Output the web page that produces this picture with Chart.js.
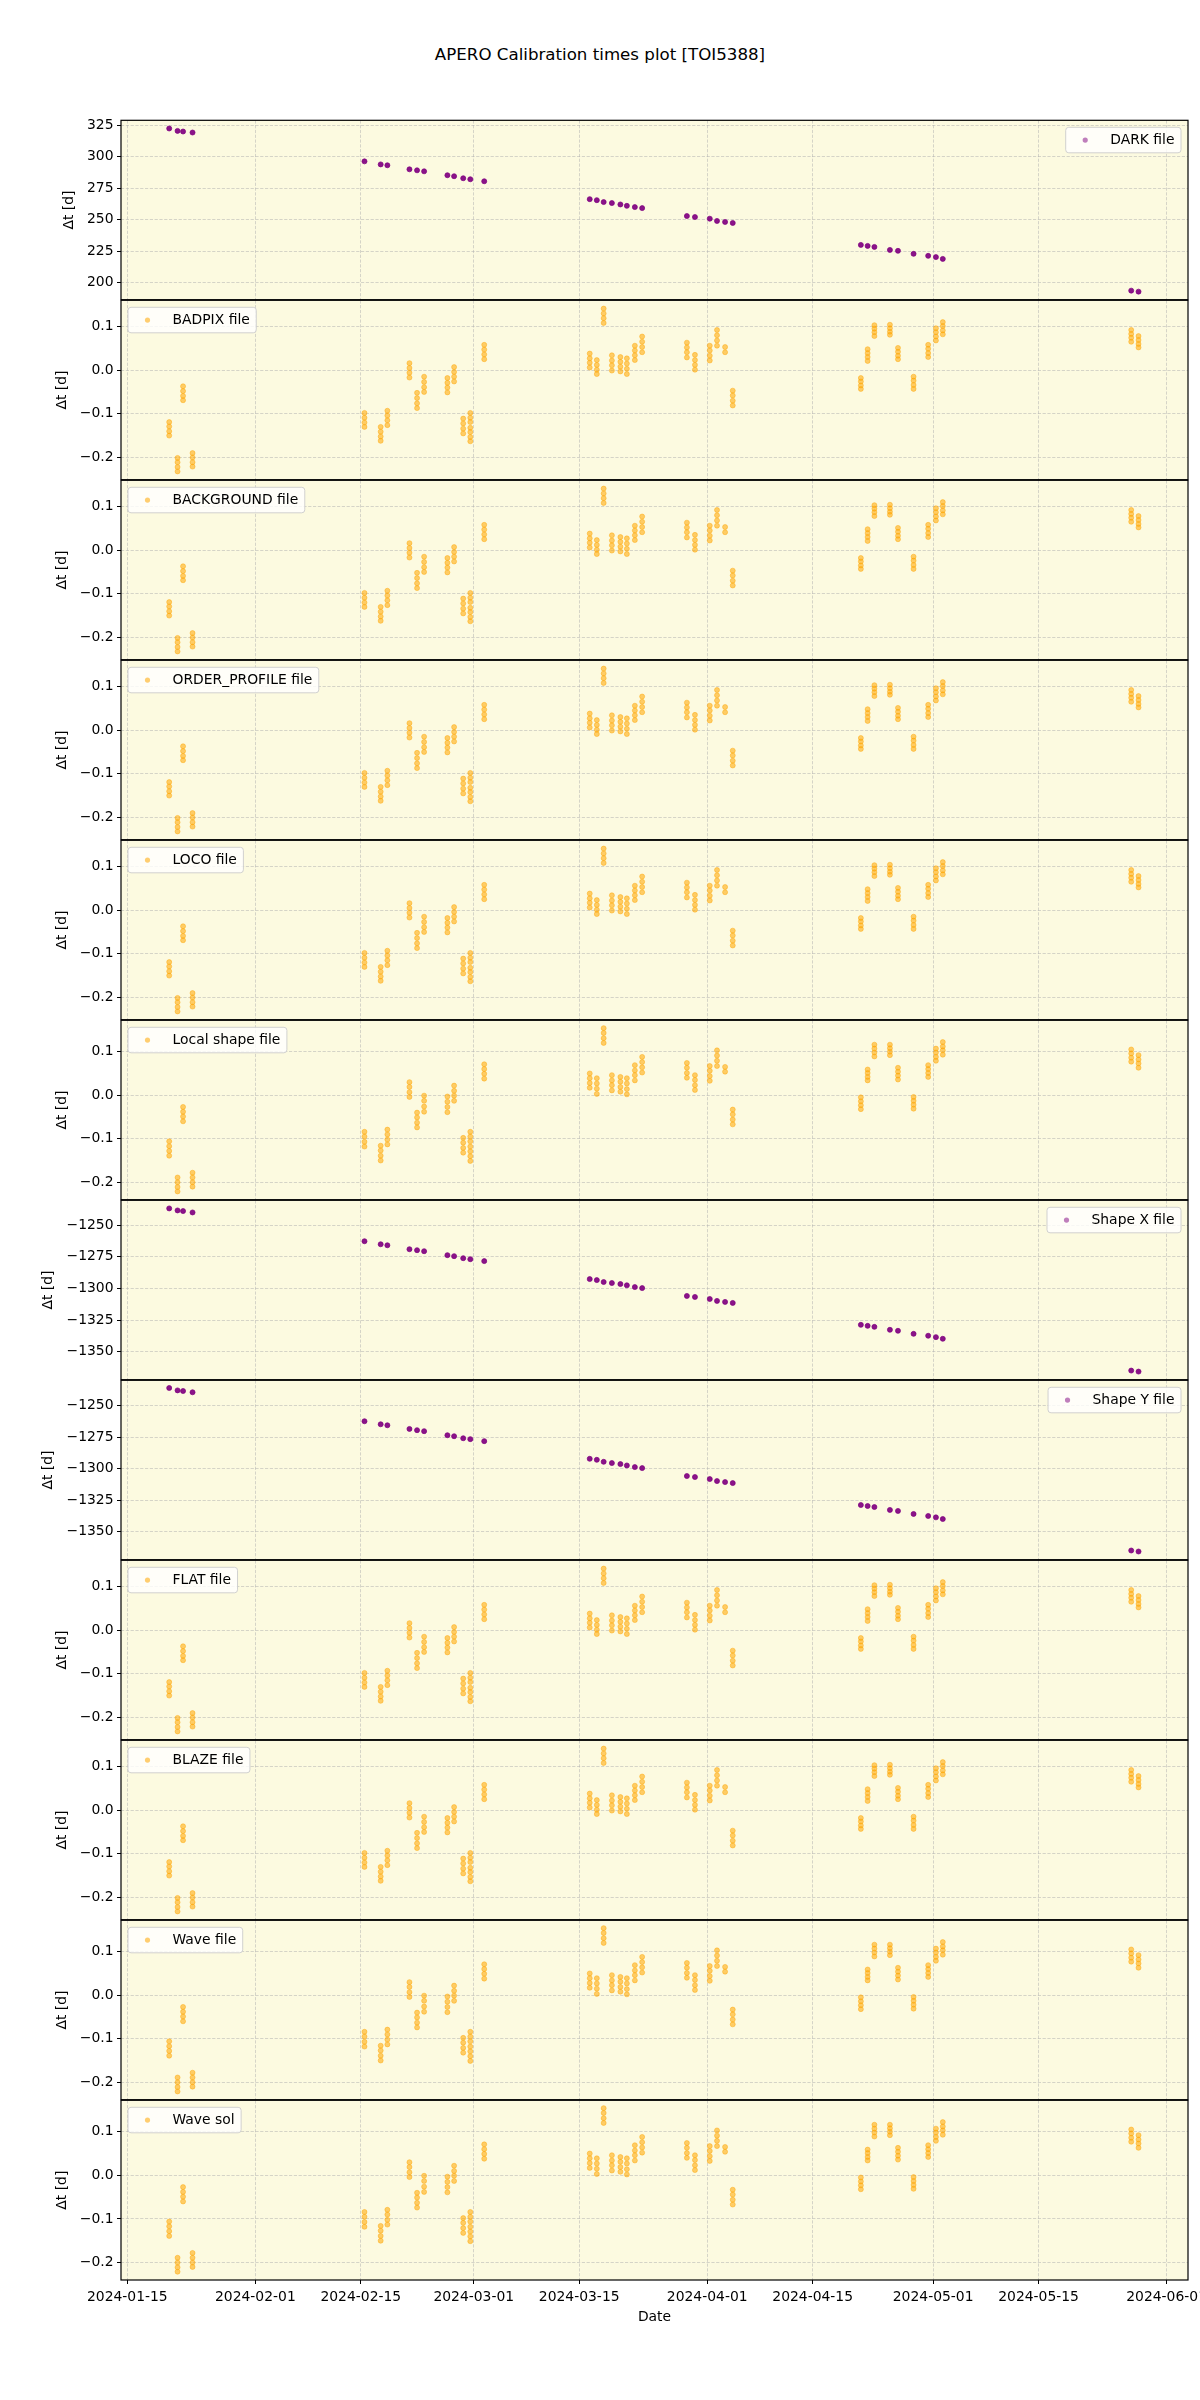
<!DOCTYPE html>
<html>
<head>
<meta charset="utf-8">
<script src="https://cdn.jsdelivr.net/npm/chart.js@4.4.1/dist/chart.umd.min.js"></script>
<style>
html, body { margin: 0; padding: 0; background: #ffffff; }
body { width: 1200px; height: 2400px; position: relative; overflow: hidden; font-family: 'DejaVu Sans', sans-serif; }
#title { position: absolute; left: 0; top: 45px; width: 1200px; text-align: center; font-size: 16.67px; line-height: 20px; color: #000; }
.pc { position: absolute; left: 0; width: 1200px; }
</style>
</head>
<body>
<div id="title">APERO Calibration times plot [TOI5388]</div>
<div id="wrap"></div>
<script>
// ---------------- DATA ----------------
// observation nights (UTC)
const obsNights = [
  '2024-01-20T13:26', '2024-01-21T16:05', '2024-01-22T09:36', '2024-01-23T15:50',
  '2024-02-15T11:46', '2024-02-17T15:22', '2024-02-18T12:43',
  '2024-02-21T11:02', '2024-02-22T11:17', '2024-02-23T09:50',
  '2024-02-26T12:00', '2024-02-27T09:22', '2024-02-28T14:24', '2024-02-29T12:58',
  '2024-03-02T09:22',
  '2024-03-16T09:36', '2024-03-17T08:10', '2024-03-18T06:00', '2024-03-19T08:10',
  '2024-03-20T11:17', '2024-03-21T07:55', '2024-03-22T09:22', '2024-03-23T08:38',
  '2024-03-29T07:12', '2024-03-30T08:53',
  '2024-04-01T08:10', '2024-04-02T07:12', '2024-04-03T08:53', '2024-04-04T09:22',
  '2024-04-21T09:36', '2024-04-22T07:12', '2024-04-23T04:48',
  '2024-04-25T06:14', '2024-04-26T07:55', '2024-04-28T09:36',
  '2024-04-30T08:10', '2024-05-01T08:53', '2024-05-02T06:43',
  '2024-05-27T07:12', '2024-05-28T06:29'
];

const darkDt = [
  322.4, 320.5, 320.0, 319.2,
  296.3, 293.9, 293.2, 290.0, 289.2, 288.4, 285.3, 284.5, 282.9, 282.1, 280.5,
  266.3, 265.5, 264.0, 263.2, 262.1, 261.0, 260.0, 259.2,
  252.9, 252.1, 250.8, 249.0, 248.2, 247.4,
  230.0, 229.2, 228.4, 226.0, 225.3, 222.9, 221.3, 220.3, 218.9,
  193.7, 192.9
];

const shapeXDt = [
  -1236.9, -1238.5, -1239.0, -1240.1,
  -1262.8, -1265.2, -1266.0, -1269.1, -1269.9, -1270.7, -1273.8, -1274.6, -1276.2, -1277.0, -1278.5,
  -1292.7, -1293.5, -1295.0, -1295.8, -1296.6, -1297.6, -1299.0, -1299.8,
  -1306.0, -1306.8, -1308.4, -1309.9, -1310.7, -1311.5,
  -1328.8, -1329.6, -1330.4, -1332.7, -1333.5, -1335.9, -1337.4, -1338.5, -1339.8,
  -1364.9, -1365.7
];

const shapeYDt = [
  -1236.0, -1237.9, -1238.4, -1239.4,
  -1262.4, -1264.8, -1265.6, -1268.5, -1269.5, -1270.3, -1273.5, -1274.3, -1275.9, -1276.6, -1278.2,
  -1292.2, -1293.0, -1294.6, -1295.6, -1296.4, -1297.5, -1298.8, -1299.6,
  -1305.9, -1306.7, -1308.3, -1309.9, -1310.7, -1311.5,
  -1328.9, -1329.7, -1330.5, -1332.8, -1333.6, -1336.0, -1337.6, -1338.7, -1340.0,
  -1365.0, -1365.8
];

// per night, the Δt of each file of that night (BADPIX / BACKGROUND / ORDER_PROFILE / LOCO / FLAT / BLAZE)
const calibDtA = [
  [-0.119, -0.129, -0.140, -0.150],
  [-0.201, -0.211, -0.222, -0.232],
  [-0.037, -0.048, -0.059, -0.069],
  [-0.190, -0.200, -0.211, -0.221],
  [-0.098, -0.109, -0.120, -0.130],
  [-0.130, -0.141, -0.152, -0.162],
  [-0.093, -0.104, -0.115, -0.126],
  [0.016, 0.005, -0.006, -0.017],
  [-0.052, -0.064, -0.076, -0.087],
  [-0.015, -0.027, -0.039, -0.050],
  [-0.018, -0.029, -0.040, -0.051],
  [0.007, -0.004, -0.015, -0.026],
  [-0.111, -0.122, -0.134, -0.145],
  [-0.098, -0.109, -0.119, -0.132, -0.142, -0.153, -0.163],
  [0.058, 0.047, 0.036, 0.025],
  [0.038, 0.027, 0.017, 0.006],
  [0.023, 0.012, 0.001, -0.009],
  [0.141, 0.130, 0.119, 0.108],
  [0.034, 0.022, 0.011, -0.001],
  [0.030, 0.019, 0.008, -0.003],
  [0.027, 0.015, 0.003, -0.009],
  [0.056, 0.045, 0.034, 0.023],
  [0.077, 0.065, 0.053, 0.041],
  [0.063, 0.052, 0.041, 0.029],
  [0.035, 0.023, 0.012, 0.001],
  [0.056, 0.045, 0.033, 0.022],
  [0.092, 0.080, 0.068, 0.056],
  [0.053, 0.041],
  [-0.047, -0.058, -0.070, -0.081],
  [-0.018, -0.026, -0.035, -0.043],
  [0.048, 0.039, 0.030, 0.021],
  [0.103, 0.095, 0.087, 0.078],
  [0.104, 0.096, 0.088, 0.081],
  [0.051, 0.042, 0.033, 0.025],
  [-0.015, -0.024, -0.034, -0.043],
  [0.058, 0.049, 0.039, 0.030],
  [0.096, 0.087, 0.077, 0.068],
  [0.110, 0.101, 0.091, 0.082],
  [0.092, 0.083, 0.074, 0.065],
  [0.078, 0.069, 0.060, 0.052]
];

// per night, Δt for Local shape / Wave file / Wave sol
const calibDtB = [
  [-0.106, -0.117, -0.128, -0.139],
  [-0.189, -0.200, -0.211, -0.221],
  [-0.027, -0.038, -0.049, -0.060],
  [-0.178, -0.189, -0.200, -0.210],
  [-0.084, -0.095, -0.107, -0.118],
  [-0.116, -0.127, -0.139, -0.150],
  [-0.079, -0.090, -0.102, -0.113],
  [0.030, 0.019, 0.007, -0.004],
  [-0.040, -0.051, -0.063, -0.074],
  [-0.001, -0.013, -0.026, -0.038],
  [-0.003, -0.015, -0.027, -0.039],
  [0.022, 0.010, -0.001, -0.013],
  [-0.098, -0.109, -0.121, -0.132],
  [-0.084, -0.095, -0.106, -0.118, -0.129, -0.140, -0.151],
  [0.071, 0.060, 0.049, 0.038],
  [0.050, 0.039, 0.028, 0.017],
  [0.039, 0.027, 0.015, 0.003],
  [0.154, 0.143, 0.131, 0.120],
  [0.046, 0.034, 0.023, 0.011],
  [0.042, 0.031, 0.019, 0.008],
  [0.039, 0.027, 0.014, 0.002],
  [0.069, 0.057, 0.046, 0.034],
  [0.088, 0.076, 0.064, 0.052],
  [0.074, 0.063, 0.051, 0.040],
  [0.046, 0.035, 0.023, 0.012],
  [0.067, 0.056, 0.044, 0.033],
  [0.103, 0.091, 0.079, 0.067],
  [0.065, 0.054],
  [-0.033, -0.044, -0.056, -0.067],
  [-0.005, -0.014, -0.023, -0.032],
  [0.059, 0.051, 0.042, 0.034],
  [0.116, 0.107, 0.098, 0.089],
  [0.116, 0.108, 0.100, 0.092],
  [0.063, 0.054, 0.045, 0.036],
  [-0.004, -0.013, -0.022, -0.031],
  [0.069, 0.060, 0.051, 0.042],
  [0.107, 0.098, 0.088, 0.079],
  [0.122, 0.112, 0.103, 0.093],
  [0.105, 0.096, 0.086, 0.077],
  [0.092, 0.082, 0.073, 0.063]
];

const badpixDt = calibDtA, backgroundDt = calibDtA, orderProfileDt = calibDtA, locoDt = calibDtA, flatDt = calibDtA, blazeDt = calibDtA;
const localShapeDt = calibDtB, waveFileDt = calibDtB, waveSolDt = calibDtB;

const xTickLabels = ['2024-01-15', '2024-02-01', '2024-02-15', '2024-03-01', '2024-03-15',
                     '2024-04-01', '2024-04-15', '2024-05-01', '2024-05-15', '2024-06-01'];
const xRange = ['2024-01-14T03:50', '2024-06-03T20:10'];
const darkTicks = [200, 225, 250, 275, 300, 325];
const shapeTicks = [-1350, -1325, -1300, -1275, -1250];
const calibTicks = [-0.2, -0.1, 0.0, 0.1];

const seriesLabels = ['DARK file', 'BADPIX file', 'BACKGROUND file', 'ORDER_PROFILE file', 'LOCO file',
                      'Local shape file', 'Shape X file', 'Shape Y file', 'FLAT file', 'BLAZE file',
                      'Wave file', 'Wave sol'];

// ---------------- STYLE / LAYOUT ----------------
const PURPLE = 'rgba(128,0,128,0.92)', PURPLE_LEG = 'rgba(128,0,128,0.5)';
const ORANGE = 'rgba(255,165,0,0.55)';
const BG = 'rgb(252,250,224)';
const GRID = 'rgba(176,176,176,0.65)';
const PANEL_TOP = 120, PANEL_H = 180, PAD = 3, PLOT_LEFT = 121, PLOT_RIGHT = 1188, XAXIS_H = 46;
const FS = 13.9;

Chart.defaults.font.family = "'DejaVu Sans', sans-serif";
Chart.defaults.font.size = FS;
Chart.defaults.color = '#000';

const toMs = s => Date.parse(s + ':00Z');

const panels = [
  {label: seriesLabels[0], kind: 'point', values: darkDt, ticks: darkTicks, dec: 0, range: [186.5, 328.9], labelX: 69},
  {label: seriesLabels[1], kind: 'stack', values: badpixDt, ticks: calibTicks, dec: 1, range: [-0.251, 0.160], labelX: 62.5},
  {label: seriesLabels[2], kind: 'stack', values: backgroundDt, ticks: calibTicks, dec: 1, range: [-0.251, 0.160], labelX: 62.5},
  {label: seriesLabels[3], kind: 'stack', values: orderProfileDt, ticks: calibTicks, dec: 1, range: [-0.251, 0.160], labelX: 62.5},
  {label: seriesLabels[4], kind: 'stack', values: locoDt, ticks: calibTicks, dec: 1, range: [-0.251, 0.160], labelX: 62.5},
  {label: seriesLabels[5], kind: 'stack', values: localShapeDt, ticks: calibTicks, dec: 1, range: [-0.240, 0.172], labelX: 62.5},
  {label: seriesLabels[6], kind: 'point', values: shapeXDt, ticks: shapeTicks, dec: 0, range: [-1372.1, -1230.5], labelX: 48.6},
  {label: seriesLabels[7], kind: 'point', values: shapeYDt, ticks: shapeTicks, dec: 0, range: [-1372.3, -1229.9], labelX: 48.6},
  {label: seriesLabels[8], kind: 'stack', values: flatDt, ticks: calibTicks, dec: 1, range: [-0.251, 0.160], labelX: 62.5},
  {label: seriesLabels[9], kind: 'stack', values: blazeDt, ticks: calibTicks, dec: 1, range: [-0.251, 0.160], labelX: 62.5},
  {label: seriesLabels[10], kind: 'stack', values: waveFileDt, ticks: calibTicks, dec: 1, range: [-0.240, 0.172], labelX: 62.5},
  {label: seriesLabels[11], kind: 'stack', values: waveSolDt, ticks: calibTicks, dec: 1, range: [-0.240, 0.172], labelX: 62.5}
];

// ---------------- PLUGINS ----------------
const bgPlugin = {
  id: 'panelBg',
  beforeDraw(chart) {
    const {ctx, chartArea: a} = chart;
    ctx.save();
    ctx.fillStyle = BG;
    ctx.fillRect(a.left, a.top, a.right - a.left, a.bottom - a.top);
    ctx.restore();
  }
};
const framePlugin = {
  id: 'panelFrame',
  afterDraw(chart) {
    const {ctx, chartArea: a} = chart;
    ctx.save();
    ctx.strokeStyle = '#000';
    ctx.lineWidth = 1.2;
    ctx.strokeRect(a.left, a.top, a.right - a.left, a.bottom - a.top);
    ctx.restore();
  }
};
const legendPlugin = {
  id: 'panelLegend',
  afterDatasetsDraw(chart, args, opts) {
    const {ctx, chartArea: a} = chart;
    ctx.save();
    ctx.font = FS + "px 'DejaVu Sans'";
    const tw = ctx.measureText(opts.text).width;
    const w = 44.5 + tw + 6.5, h = 25.5;
    const x = opts.pos === 'right' ? a.right - 7 - w : a.left + 7;
    const y = a.top + 7;
    const r = 3;
    ctx.beginPath();
    ctx.moveTo(x + r, y);
    ctx.lineTo(x + w - r, y);
    ctx.arcTo(x + w, y, x + w, y + r, r);
    ctx.lineTo(x + w, y + h - r);
    ctx.arcTo(x + w, y + h, x + w - r, y + h, r);
    ctx.lineTo(x + r, y + h);
    ctx.arcTo(x, y + h, x, y + h - r, r);
    ctx.lineTo(x, y + r);
    ctx.arcTo(x, y, x + r, y, r);
    ctx.closePath();
    ctx.fillStyle = 'rgba(255,255,255,0.8)';
    ctx.fill();
    ctx.strokeStyle = 'rgba(204,204,204,0.9)';
    ctx.lineWidth = 1;
    ctx.stroke();
    ctx.beginPath();
    ctx.arc(x + 19.5, y + h / 2, 2.6, 0, Math.PI * 2);
    ctx.fillStyle = opts.color;
    ctx.fill();
    ctx.fillStyle = '#000';
    ctx.textBaseline = 'middle';
    ctx.textAlign = 'left';
    ctx.fillText(opts.text, x + 44.5, y + h / 2 + 0.5);
    ctx.restore();
  }
};

// ---------------- BUILD ----------------
const wrap = document.getElementById('wrap');
const xMin = toMs(xRange[0]), xMax = toMs(xRange[1]);
const xTickValues = xTickLabels.map(s => toMs(s + 'T00:00'));
const nightMs = obsNights.map(toMs);

panels.forEach((p, i) => {
  const isLast = i === panels.length - 1;
  const xh = isLast ? XAXIS_H : 0;
  const cTop = PANEL_TOP + i * PANEL_H - PAD;
  const cH = PANEL_H + 2 * PAD + xh;
  const div = document.createElement('div');
  div.className = 'pc';
  div.style.top = cTop + 'px';
  div.style.height = cH + 'px';
  const cv = document.createElement('canvas');
  cv.width = 1200; cv.height = cH;
  cv.style.width = '1200px'; cv.style.height = cH + 'px';
  div.appendChild(cv);
  wrap.appendChild(div);

  let data;
  if (p.kind === 'point') {
    data = nightMs.map((t, k) => ({x: t, y: p.values[k]}));
  } else {
    data = [];
    nightMs.forEach((t, k) => p.values[k].forEach(v => data.push({x: t, y: v})));
  }
  const col = p.kind === 'point' ? PURPLE : ORANGE;
  const legCol = p.kind === 'point' ? PURPLE_LEG : ORANGE;
  const padLeft = p.labelX - FS * 1.2 / 2;
  const fmt = v => (p.dec ? Number(v).toFixed(p.dec) : String(Math.round(v))).replace('-', '\u2212');

  new Chart(cv, {
    type: 'scatter',
    data: {datasets: [{
      label: p.label, data,
      pointRadius: 2.5, pointHoverRadius: 2.5, pointBorderWidth: 0.8,
      backgroundColor: col, borderColor: col, showLine: false
    }]},
    options: {
      responsive: false, animation: false, devicePixelRatio: 1,
      events: [],
      layout: {padding: {left: padLeft, right: 1200 - PLOT_RIGHT, top: PAD, bottom: PAD}},
      plugins: {
        legend: {display: false}, tooltip: {enabled: false},
        panelLegend: {text: p.label, color: legCol, pos: p.kind === 'point' ? 'right' : 'left'}
      },
      scales: {
        x: {
          type: 'linear', min: xMin, max: xMax, bounds: 'data',
          afterBuildTicks: s => { s.ticks = xTickValues.map(v => ({value: v})); },
          afterFit: s => { s.height = xh; s.paddingLeft = 0; s.paddingRight = 0; },
          ticks: {display: isLast, autoSkip: false, maxRotation: 0, minRotation: 0, padding: 5,
                  callback: (v, idx) => xTickLabels[idx]},
          grid: {color: GRID, lineWidth: 0.8, drawTicks: isLast, tickLength: 4, tickColor: '#000', tickWidth: 1},
          border: {display: false, dash: [3.2, 1.6]},
          title: {display: isLast, text: 'Date', padding: 0}
        },
        y: {
          type: 'linear', min: p.range[0], max: p.range[1], bounds: 'data',
          afterBuildTicks: s => { s.ticks = p.ticks.map(v => ({value: v})); },
          afterFit: s => { s.width = PLOT_LEFT - padLeft; s.paddingTop = 0; s.paddingBottom = 0; },
          ticks: {autoSkip: false, padding: 3.5, callback: v => fmt(v)},
          grid: {color: GRID, lineWidth: 0.8, drawTicks: true, tickLength: 4, tickColor: '#000', tickWidth: 1},
          border: {display: false, dash: [3.2, 1.6]},
          title: {display: true, text: '\u0394t [d]', padding: 0}
        }
      }
    },
    plugins: [bgPlugin, legendPlugin, framePlugin]
  });
});
</script>
</body>
</html>
